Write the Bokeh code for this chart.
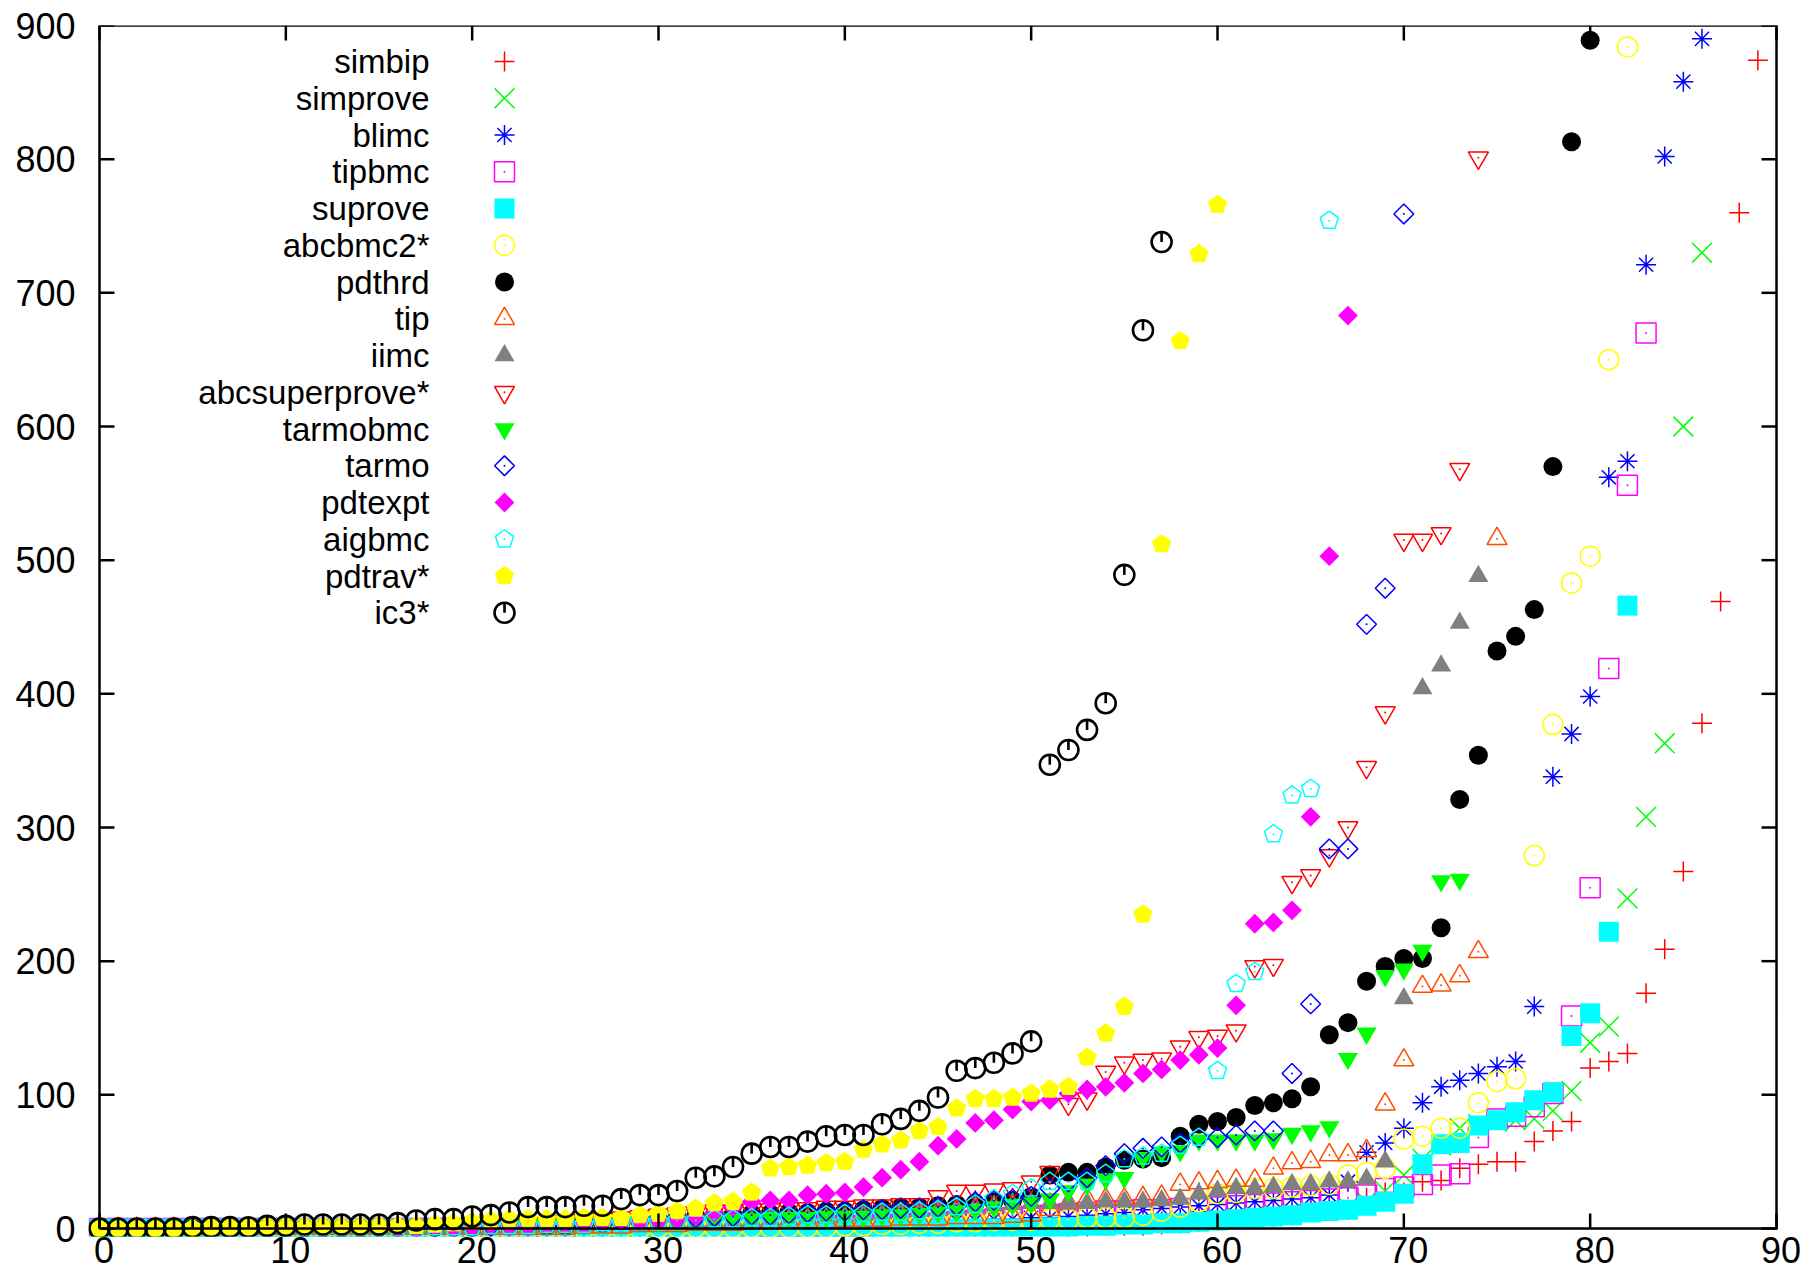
import math
from bokeh.plotting import figure
from bokeh.models import Range1d, FixedTicker, LinearAxis
from bokeh.embed import file_html
from bokeh.resources import INLINE
from bokeh.core.properties import value

# ---------------- data (y value of the k-th point, x = k) ----------------
x_ticks = [0, 10, 20, 30, 40, 50, 60, 70, 80, 90]
y_ticks = [0, 100, 200, 300, 400, 500, 600, 700, 800, 900]

simbip = [0, 0, 0, 0, 0, 0, 0, 0, 0, 0,
          0, 0, 0, 0, 0, 0, 0, 0, 0, 0,
          0, 0, 0, 0, 0, 0, 0, 0, 0, 0,
          0, 0, 0, 0, 0, 0, 0, 0, 0, 0,
          0, 0, 0, 0, 0, 0, 0, 0, 0, 0,
          0, 1, 1, 1, 2, 2, 2, 3, 4, 5,
          6, 7, 8, 9, 10, 13, 13, 14, 23, 27,
          27, 35, 36, 45, 48, 50, 50, 65, 73, 80,
          120, 125, 131, 176, 209, 267, 378, 469, 760, 874]
simprove = [0, 0, 0, 0, 0, 0, 0, 0, 0, 0,
            0, 0, 0, 0, 0, 0, 0, 0, 0, 0,
            0, 0, 0, 0, 0, 0, 0, 0, 0, 0,
            0, 0, 0, 0, 0, 0, 0, 0, 0, 0,
            0, 0, 0, 0, 0, 0, 1, 1, 1, 2,
            2, 2, 3, 3, 4, 4, 5, 5, 6, 7,
            8, 9, 10, 11, 12, 13, 14, 16, 20, 28,
            40, 52, 62, 75, 78, 80, 81, 82, 88, 103,
            139, 151, 247, 308, 363, 600, 730]
blimc = [0, 0, 0, 0, 0, 0, 0, 0, 0, 0,
         0, 0, 0, 0, 0, 0, 0, 0, 0, 0,
         0, 0, 0, 0, 0, 0, 0, 0, 0, 0,
         0, 1, 1, 1, 2, 2, 2, 3, 3, 3,
         4, 4, 4, 5, 5, 5, 6, 6, 7, 7,
         8, 8, 9, 10, 11, 12, 14, 15, 16, 17,
         18, 19, 20, 21, 22, 23, 25, 35, 57, 64,
         75, 94, 106, 111, 116, 121, 125, 166, 338, 370,
         398, 562, 574, 721, 802, 858, 890]
tipbmc = [0, 0, 0, 0, 0, 0, 0, 0, 0, 0,
          0, 0, 0, 0, 0, 0, 0, 0, 0, 0,
          0, 0, 0, 0, 0, 0, 0, 0, 0, 0,
          0, 0, 0, 0, 0, 0, 1, 1, 1, 2,
          2, 2, 3, 3, 4, 4, 5, 6, 7, 8,
          9, 10, 11, 12, 13, 13, 14, 14, 15, 15,
          16, 17, 18, 19, 20, 21, 22, 23, 25, 30,
          31, 33, 40, 41, 68, 82, 84, 91, 101, 159,
          255, 419, 556, 670]
suprove = [0, 0, 0, 0, 0, 0, 0, 0, 0, 0,
           0, 0, 0, 0, 0, 0, 0, 0, 0, 0,
           0, 0, 0, 0, 0, 0, 0, 0, 0, 0,
           0, 0, 0, 0, 0, 0, 0, 0, 0, 0,
           0, 0, 0, 0, 0, 0, 0, 0, 0, 0,
           0, 1, 1, 2, 2, 3, 3, 4, 4, 5,
           6, 7, 8, 9, 10, 12, 13, 14, 17, 20,
           26, 48, 63, 64, 77, 81, 87, 96, 102, 144,
           161, 222, 466]
abcbmc2 = [0, 0, 0, 0, 0, 0, 0, 0, 0, 0,
           0, 0, 0, 0, 0, 0, 0, 0, 0, 0,
           0, 0, 0, 0, 0, 0, 0, 0, 0, 0,
           1, 1, 1, 1, 1, 1, 1, 1, 1, 1,
           2, 2, 3, 3, 4, 4, 5, 5, 6, 6,
           6, 7, 7, 8, 8, 8, 10, 13, 16, 20,
           26, 27, 30, 30, 31, 32, 33, 40, 42, 45,
           67, 69, 75, 75, 94, 110, 112, 279, 377, 483,
           503, 650, 884]
pdthrd = [0, 0, 0, 0, 0, 0, 0, 0, 0, 0,
          0, 0, 0, 0, 0, 1, 1, 1, 1, 1,
          1, 2, 2, 2, 2, 2, 3, 4, 5, 6,
          7, 8, 9, 10, 10, 11, 11, 12, 12, 13,
          13, 14, 15, 16, 16, 17, 18, 19, 20, 21,
          24, 40, 42, 42, 46, 51, 52, 53, 69, 78,
          80, 83, 92, 94, 97, 106, 145, 154, 185, 196,
          202, 202, 225, 321, 354, 432, 443, 463, 570, 813,
          889]
tip = [0, 0, 0, 0, 0, 0, 0, 0, 0, 0,
       0, 0, 0, 0, 0, 0, 0, 0, 0, 0,
       0, 0, 0, 0, 0, 0, 1, 1, 1, 2,
       2, 2, 3, 3, 3, 4, 4, 5, 5, 5,
       6, 6, 6, 7, 7, 7, 8, 8, 8, 9,
       10, 14, 19, 22, 22, 22, 23, 24, 33, 34,
       35, 36, 36, 45, 49, 50, 55, 55, 58, 93,
       126, 181, 182, 189, 207, 516]
iimc = [0, 0, 0, 0, 0, 0, 0, 0, 0, 0,
        0, 0, 0, 0, 0, 0, 0, 0, 0, 0,
        0, 1, 1, 1, 2, 2, 2, 3, 3, 3,
        4, 4, 5, 5, 6, 6, 7, 7, 8, 8,
        9, 10, 11, 12, 13, 14, 15, 16, 17, 18,
        19, 19, 19, 19, 20, 20, 20, 21, 22, 26,
        28, 30, 30, 31, 33, 33, 35, 35, 37, 50,
        172, 404, 421, 453, 488]
abcsuperprove = [0, 0, 0, 0, 0, 0, 0, 0, 0, 0,
                 0, 0, 0, 0, 0, 0, 1, 1, 1, 1,
                 1, 2, 3, 3, 4, 5, 6, 7, 8, 9,
                 10, 11, 12, 13, 13, 14, 14, 15, 15, 16,
                 16, 17, 17, 18, 18, 24, 28, 28, 29, 30,
                 35, 42, 93, 97, 117, 124, 126, 127, 136, 143,
                 144, 148, 196, 197, 259, 264, 279, 300, 345, 386,
                 515, 515, 520, 568, 801]
tarmobmc = [0, 0, 0, 0, 0, 0, 0, 0, 0, 0,
            0, 0, 0, 0, 0, 0, 0, 0, 0, 1,
            1, 2, 2, 2, 3, 3, 3, 4, 4, 5,
            5, 6, 6, 7, 7, 7, 8, 8, 8, 9,
            9, 9, 10, 10, 11, 12, 13, 14, 16, 18,
            19, 22, 28, 33, 37, 38, 53, 57, 58, 66,
            66, 66, 66, 67, 71, 73, 76, 127, 146, 189,
            194, 208, 260, 261]
tarmo = [0, 0, 0, 0, 0, 0, 0, 0, 0, 0,
         0, 0, 0, 0, 0, 0, 1, 1, 1, 2,
         2, 2, 3, 3, 4, 4, 5, 5, 6, 6,
         7, 8, 8, 9, 9, 10, 10, 11, 12, 13,
         13, 14, 14, 15, 15, 16, 17, 20, 21, 22,
         24, 30, 35, 38, 47, 56, 60, 61, 64, 68,
         68, 70, 73, 73, 116, 168, 284, 284, 452, 479,
         759]
pdtexpt = [0, 0, 0, 0, 0, 0, 0, 0, 0, 0,
           0, 0, 0, 0, 0, 0, 0, 0, 1, 1,
           1, 2, 2, 2, 3, 3, 3, 4, 4, 5,
           6, 7, 9, 12, 16, 20, 21, 21, 25, 26,
           27, 31, 38, 44, 50, 62, 67, 79, 81, 89,
           95, 96, 101, 104, 106, 109, 116, 119, 126, 130,
           135, 167, 228, 229, 238, 308, 503, 683]
aigbmc = [0, 0, 0, 0, 0, 0, 0, 0, 0, 0,
          0, 0, 0, 0, 0, 0, 0, 0, 1, 1,
          1, 2, 2, 2, 3, 3, 3, 4, 4, 5,
          5, 6, 6, 7, 7, 8, 8, 9, 10, 10,
          11, 11, 12, 12, 13, 14, 16, 18, 22, 26,
          30, 35, 35, 35, 41, 52, 54, 56, 62, 68,
          118, 183, 192, 295, 324, 329, 754]
pdtrav = [0, 0, 0, 0, 0, 0, 1, 1, 1, 1,
          1, 1, 1, 1, 1, 2, 2, 2, 3, 4,
          5, 6, 7, 7, 7, 7, 8, 8, 8, 10,
          11, 13, 15, 19, 20, 27, 45, 46, 47, 49,
          50, 59, 63, 66, 73, 76, 90, 97, 97, 98,
          101, 104, 106, 128, 146, 166, 235, 512, 664, 729,
          766]
ic3 = [0, 0, 0, 0, 0, 1, 1, 1, 1, 2,
       2, 3, 3, 3, 3, 3, 4, 6, 7, 7,
       9, 10, 12, 16, 16, 16, 17, 17, 22, 25,
       25, 28, 38, 39, 46, 56, 61, 61, 65, 69,
       70, 70, 78, 82, 88, 98, 118, 120, 124, 131,
       140, 347, 358, 373, 393, 489, 672, 738]

series_names = ["simbip", "simprove", "blimc", "tipbmc", "suprove", "abcbmc2*",
                "pdthrd", "tip", "iimc", "abcsuperprove*", "tarmobmc", "tarmo",
                "pdtexpt", "aigbmc", "pdtrav*", "ic3*"]
series_values = [simbip, simprove, blimc, tipbmc, suprove, abcbmc2,
                 pdthrd, tip, iimc, abcsuperprove, tarmobmc, tarmo,
                 pdtexpt, aigbmc, pdtrav, ic3]

# ---------------- styles ----------------
RED, GREEN, BLUE, MAG, CYAN, YEL = "#FF0000", "#00FF00", "#0000FF", "#FF00FF", "#00FFFF", "#FFFF00"
BLACK, ORANGE, GRAY = "#000000", "#FF4D00", "#808080"
styles = [
    dict(kind="cross", color=RED, size=20),
    dict(kind="x", color=GREEN, size=28),
    dict(kind="asterisk", color=BLUE, size=20),
    dict(kind="square", color=MAG, size=20, open=True),
    dict(kind="square", color=CYAN, size=20),
    dict(kind="circle", color=YEL, size=20, open=True),
    dict(kind="circle", color=BLACK, size=19),
    dict(kind="triangle", color=ORANGE, size=20, open=True),
    dict(kind="triangle", color=GRAY, size=20),
    dict(kind="triangle", color=RED, size=20, open=True, angle=math.pi),
    dict(kind="inverted_triangle", color=GREEN, size=20),
    dict(kind="square", color=BLUE, size=14, open=True, angle=math.pi / 4),
    dict(kind="square", color=MAG, size=14, angle=math.pi / 4),
    dict(kind="pentagon", color=CYAN, size=9.5, open=True),
    dict(kind="pentagon", color=YEL, size=9.5),
    dict(kind="ic3", color=BLACK, size=20),
]

FONT = "Liberation Sans"
FS_KEY = "33px"
FS_TICK = "36px"
AW, AH = 1677, 1203          # axis box size in px
PAD_L = 11                   # room left of the axis box so markers are not cut at the border
PAD_R = 8                    # room right of the axis box
PAD_Y = 8                    # room below the axis box
XLAB_SHIFT = 4.5             # gnuplot draws the x tick labels a few px right of their ticks
XMIN, XMAX, YMIN, YMAX = 0, 90, 0, 900
PXX = AW / (XMAX - XMIN)
PXY = AH / (YMAX - YMIN)
TICK_PX = 15
LW = 2.5

X_LO, X_HI = XMIN - PAD_L / PXX, XMAX + PAD_R / PXX
p = figure(frame_width=AW + PAD_L + PAD_R, frame_height=AH + PAD_Y,
           x_range=Range1d(X_LO, X_HI), y_range=Range1d(YMIN - PAD_Y / PXY, YMAX),
           output_backend="svg", toolbar_location=None,
           min_border_left=99 - PAD_L, min_border_top=25, min_border_right=20, min_border_bottom=46,
           background_fill_color="white", border_fill_color="white")
p.xgrid.visible = False
p.ygrid.visible = False
p.outline_line_color = None
p.extra_x_ranges = {"lab": Range1d(X_LO - XLAB_SHIFT / PXX, X_HI - XLAB_SHIFT / PXX)}


def style_axis(ax, ticks, standoff):
    ax.ticker = FixedTicker(ticks=ticks)
    ax.major_tick_in = 0
    ax.major_tick_out = 0
    ax.major_tick_line_color = None
    ax.minor_tick_line_color = None
    ax.axis_line_color = None
    ax.major_label_text_font = FONT
    ax.major_label_text_font_size = FS_TICK
    ax.major_label_text_color = "black"
    ax.major_label_standoff = standoff


p.xaxis[0].visible = False
xlab_axis = LinearAxis(x_range_name="lab")
style_axis(xlab_axis, x_ticks, 0)
p.add_layout(xlab_axis, "below")
style_axis(p.yaxis[0], y_ticks, 13)


def draw(xs, ys, st):
    kind, c, sz = st["kind"], st["color"], st["size"]
    is_open = st.get("open", False)
    if kind == "pentagon":
        angs = [math.pi / 2 + k * 2 * math.pi / 5 for k in range(5)]
        pxs = [[x + sz * math.cos(a) / PXX for a in angs] for x in xs]
        pys = [[y + sz * math.sin(a) / PXY for a in angs] for y in ys]
        if is_open:
            p.patches(pxs, pys, fill_color=None, line_color=c, line_width=1.5)
        else:
            p.patches(pxs, pys, fill_color=c, line_color=c, line_width=1)
    elif kind == "ic3":
        p.scatter(xs, ys, marker="circle", size=sz, fill_color=None, line_color=c, line_width=2.6)
        p.segment(x0=xs, y0=ys, x1=xs, y1=[y + (sz / 2) / PXY for y in ys], line_color=c, line_width=2.6)
    elif kind in ("cross", "x", "asterisk"):
        p.scatter(xs, ys, marker=kind, size=sz, line_color=c, line_width=1.5)
    elif is_open:
        p.scatter(xs, ys, marker=kind, size=sz, angle=st.get("angle", 0),
                  fill_color=None, line_color=c, line_width=1.5)
    else:
        p.scatter(xs, ys, marker=kind, size=sz, angle=st.get("angle", 0),
                  fill_color=c, line_color=None)
    if is_open:
        p.scatter(xs, ys, marker="circle", size=2, fill_color=c, line_color=None)


for vals, st in zip(series_values, styles):
    draw(list(range(len(vals))), vals, st)

# ---------------- key (gnuplot style: text then sample) ----------------
LEG_TEXT_PX = 330
LEG_MARK_PX = 405
LEG_TOP_PX = 36
LEG_STEP_PX = 36.75
for i, (name, st) in enumerate(zip(series_names, styles)):
    ly = YMAX - (LEG_TOP_PX + i * LEG_STEP_PX) / PXY
    draw([XMIN + LEG_MARK_PX / PXX], [ly], st)
    p.text(x=[XMIN + LEG_TEXT_PX / PXX], y=[ly], text=[name], text_align="right",
           text_baseline="middle", text_font=value(FONT), text_font_size=value(FS_KEY),
           text_color="black")

# ---------------- border box and inward ticks on all four sides (drawn on top) ----------------
p.line(x=[XMIN, XMAX, XMAX, XMIN, XMIN], y=[YMIN, YMIN, YMAX, YMAX, YMIN],
       line_color="black", line_width=LW, line_join="miter")
p.segment(x0=x_ticks, y0=[YMIN for _ in x_ticks], x1=x_ticks,
          y1=[YMIN + TICK_PX / PXY for _ in x_ticks], line_color="black", line_width=LW)
p.segment(x0=x_ticks, y0=[YMAX for _ in x_ticks], x1=x_ticks,
          y1=[YMAX - TICK_PX / PXY for _ in x_ticks], line_color="black", line_width=LW)
p.segment(x0=[XMIN for _ in y_ticks], y0=y_ticks, x1=[XMIN + TICK_PX / PXX for _ in y_ticks],
          y1=y_ticks, line_color="black", line_width=LW)
p.segment(x0=[XMAX for _ in y_ticks], y0=y_ticks, x1=[XMAX - TICK_PX / PXX for _ in y_ticks],
          y1=y_ticks, line_color="black", line_width=LW)

open("out.html", "w").write(file_html(p, INLINE))
